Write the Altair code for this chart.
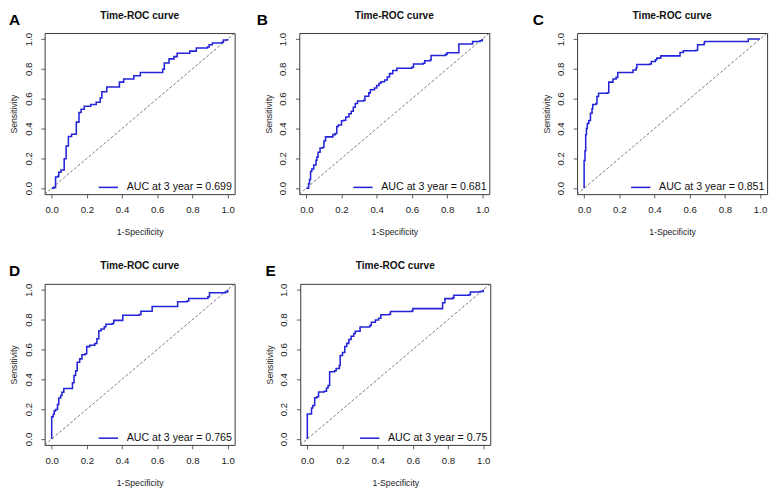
import altair as alt
import pandas as pd

letters = ["A", "B", "C", "D", "E"]
auc_labels = [
    "AUC at 3 year = 0.699",
    "AUC at 3 year = 0.681",
    "AUC at 3 year = 0.851",
    "AUC at 3 year = 0.765",
    "AUC at 3 year = 0.75",
]
panel_title = "Time-ROC curve"
x_title = "1-Specificity"
y_title = "Sensitivity"
tick_vals = [0.0, 0.2, 0.4, 0.6, 0.8, 1.0]
diag_vals = [-0.04, 1.04]

A_fpr = [0, 0.013, 0.022, 0.035, 0.04, 0.053, 0.064, 0.071, 0.082, 0.095, 0.113, 0.136, 0.14, 0.155, 0.167,
         0.185, 0.222, 0.253, 0.276, 0.285, 0.313, 0.376, 0.385, 0.409, 0.458, 0.467, 0.504, 0.622, 0.631,
         0.64, 0.667, 0.695, 0.713, 0.776, 0.785, 0.822, 0.885, 0.895, 0.913, 0.967, 0.976, 1.0]
A_tpr = [0, 0.004, 0.075, 0.079, 0.107, 0.122, 0.122, 0.197, 0.283, 0.347, 0.362, 0.362, 0.443, 0.507, 0.529,
         0.55, 0.561, 0.576, 0.604, 0.647, 0.679, 0.679, 0.711, 0.732, 0.732, 0.754, 0.775, 0.775, 0.797,
         0.839, 0.867, 0.882, 0.904, 0.904, 0.919, 0.94, 0.946, 0.961, 0.974, 0.979, 0.994, 1.0]

B_fpr = [0, 0.013, 0.018, 0.024, 0.031, 0.042, 0.055, 0.06, 0.067, 0.078, 0.091, 0.1, 0.109, 0.136, 0.151,
         0.164, 0.173, 0.182, 0.2, 0.213, 0.224, 0.242, 0.255, 0.267, 0.278, 0.291, 0.327, 0.333, 0.355,
         0.364, 0.387, 0.4, 0.413, 0.424, 0.445, 0.46, 0.473, 0.491, 0.515, 0.6, 0.609, 0.664, 0.673, 0.704,
         0.709, 0.791, 0.8, 0.86, 0.867, 0.936, 0.945, 0.987, 1.0]
B_tpr = [0, 0.03, 0.058, 0.112, 0.129, 0.155, 0.187, 0.209, 0.241, 0.269, 0.273, 0.316, 0.344, 0.344, 0.359,
         0.366, 0.413, 0.424, 0.452, 0.456, 0.477, 0.499, 0.516, 0.542, 0.568, 0.585, 0.589, 0.617, 0.639,
         0.66, 0.671, 0.688, 0.703, 0.714, 0.725, 0.746, 0.768, 0.789, 0.804, 0.811, 0.832, 0.837, 0.854, 0.86,
         0.89, 0.897, 0.908, 0.908, 0.966, 0.966, 0.983, 0.989, 1.0]

C_fpr = [0, 0, 0.005, 0.009, 0.013, 0.018, 0.027, 0.036, 0.045, 0.049, 0.067, 0.073, 0.082, 0.133, 0.14,
         0.164, 0.182, 0.191, 0.273, 0.278, 0.296, 0.3, 0.373, 0.382, 0.405, 0.413, 0.436, 0.536, 0.545,
         0.564, 0.636, 0.645, 0.682, 0.685, 0.927, 0.933, 1.0]
C_tpr = [0, 0.186, 0.251, 0.358, 0.4, 0.433, 0.454, 0.503, 0.533, 0.561, 0.567, 0.615, 0.636, 0.64, 0.711,
         0.732, 0.743, 0.775, 0.775, 0.792, 0.807, 0.829, 0.833, 0.85, 0.861, 0.872, 0.887, 0.887, 0.91,
         0.921, 0.925, 0.961, 0.974, 0.983, 0.983, 1.0, 1.0]

D_fpr = [0, 0, 0.009, 0.014, 0.022, 0.033, 0.04, 0.051, 0.058, 0.069, 0.109, 0.118, 0.127, 0.136, 0.145,
         0.159, 0.172, 0.19, 0.199, 0.217, 0.245, 0.257, 0.268, 0.281, 0.299, 0.308, 0.344, 0.353, 0.399,
         0.404, 0.498, 0.507, 0.562, 0.571, 0.707, 0.716, 0.77, 0.779, 0.888, 0.897, 0.987, 1.0]
D_tpr = [0, 0.149, 0.166, 0.188, 0.198, 0.231, 0.274, 0.291, 0.313, 0.338, 0.338, 0.377, 0.425, 0.457, 0.515,
         0.537, 0.565, 0.571, 0.619, 0.629, 0.64, 0.672, 0.726, 0.737, 0.752, 0.769, 0.774, 0.795, 0.795,
         0.83, 0.834, 0.856, 0.856, 0.888, 0.888, 0.92, 0.925, 0.942, 0.953, 0.981, 0.985, 1.0]

E_fpr = [0, 0, 0.018, 0.024, 0.031, 0.042, 0.055, 0.064, 0.096, 0.109, 0.118, 0.127, 0.155, 0.164, 0.182,
         0.187, 0.2, 0.213, 0.224, 0.236, 0.249, 0.264, 0.273, 0.3, 0.355, 0.364, 0.387, 0.405, 0.418,
         0.467, 0.473, 0.595, 0.6, 0.755, 0.769, 0.782, 0.827, 0.833, 0.918, 0.927, 0.982, 1.0]
E_tpr = [0, 0.167, 0.167, 0.207, 0.224, 0.276, 0.283, 0.315, 0.32, 0.341, 0.359, 0.45, 0.457, 0.472, 0.493,
         0.559, 0.58, 0.62, 0.641, 0.667, 0.689, 0.707, 0.722, 0.75, 0.761, 0.783, 0.798, 0.809, 0.833,
         0.837, 0.854, 0.859, 0.874, 0.874, 0.913, 0.941, 0.946, 0.963, 0.967, 0.985, 0.989, 1.0]

curves = [(A_fpr, A_tpr), (B_fpr, B_tpr), (C_fpr, C_tpr), (D_fpr, D_tpr), (E_fpr, E_tpr)]

FONT = "Liberation Sans"
BLUE = "#2424d8"
W = 197
H = 167
letter_dx = [-37, -44, -46, -37, -36]


def axis(title, vertical):
    kw = dict(
        values=tick_vals, format=".1f", title=title, grid=False, domain=False,
        tickSize=4, tickColor="#333333", tickWidth=0.8,
        labelFont=FONT, labelFontSize=10, labelColor="#222222",
        titleFont=FONT, titleFontSize=9, titleFontWeight="normal", titleColor="#222222",
    )
    if vertical:
        kw.update(labelAngle=270, labelAlign="center", labelBaseline="bottom",
                  labelPadding=8, titlePadding=5)
    else:
        kw.update(labelPadding=7, titlePadding=14)
    return alt.Axis(**kw)


def panel(i):
    fpr, tpr = curves[i]
    label = auc_labels[i]
    xs = alt.Scale(domain=diag_vals, nice=False, zero=False)
    ys = alt.Scale(domain=diag_vals, nice=False, zero=False)
    xa = axis(x_title, False)
    ya = axis(y_title, True)
    df = pd.DataFrame({"fpr": fpr, "tpr": tpr, "order": list(range(len(fpr))), "series": label})
    ddf = pd.DataFrame({"fpr": diag_vals, "tpr": diag_vals})
    ldf = pd.DataFrame({"letter": [letters[i]], "title": [panel_title]})

    diag = alt.Chart(ddf).mark_line(strokeDash=[3, 2], color="#555555", strokeWidth=0.8).encode(
        x=alt.X("fpr:Q", scale=xs, axis=xa),
        y=alt.Y("tpr:Q", scale=ys, axis=ya),
    )
    line = alt.Chart(df).mark_line(interpolate="step-after", strokeWidth=1.6).encode(
        x=alt.X("fpr:Q", scale=xs, axis=xa),
        y=alt.Y("tpr:Q", scale=ys, axis=ya),
        order=alt.Order("order:Q"),
        color=alt.Color(
            "series:N",
            scale=alt.Scale(domain=[label], range=[BLUE]),
            legend=alt.Legend(
                title=None, orient="bottom-right", offset=2, padding=0,
                symbolType="stroke", symbolSize=400, symbolStrokeWidth=1.6,
                labelFont=FONT, labelFontSize=11, labelColor="#111111", labelOffset=8,
            ),
        ),
    )
    letter = alt.Chart(ldf).mark_text(
        align="left", baseline="top", fontSize=16, fontWeight="bold", font=FONT, color="black"
    ).encode(text="letter:N", x=alt.value(letter_dx[i]), y=alt.value(-21))
    title = alt.Chart(ldf).mark_text(
        align="center", baseline="top", fontSize=10.5, fontWeight="bold", font=FONT, color="#111111"
    ).encode(text="title:N", x=alt.value(W / 2), y=alt.value(-23))

    return alt.layer(diag, line, letter, title).properties(width=W, height=H)


def indep(c):
    return c.resolve_scale(color="independent").resolve_legend(color="independent")


p = [panel(i) for i in range(5)]
top_ab = indep(alt.hconcat(p[0], p[1], spacing=19))
top = indep(alt.hconcat(top_ab, p[2], spacing=41))
bottom = indep(alt.hconcat(p[3], p[4], spacing=28))
chart = indep(alt.vconcat(top, bottom, spacing=24)).properties(
    padding={"left": 0, "top": -7, "right": 0, "bottom": 0}, background="white"
).configure_view(stroke="#333333", strokeWidth=1)

chart.save("out.html", embed_options={"renderer": "svg", "actions": False})
